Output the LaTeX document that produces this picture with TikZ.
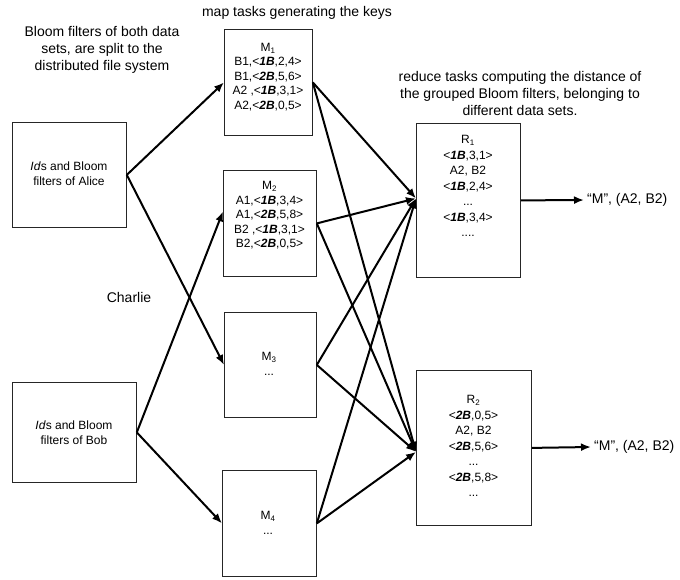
\documentclass[tikz,border=0pt]{standalone}
\usepackage{fontspec}
\setmainfont{Liberation Sans}
\usetikzlibrary{arrows.meta}
\newcommand{\bi}[1]{\textbf{\textit{#1}}}
\begin{document}
\begin{tikzpicture}[x=1pt,y=-1pt,
  box/.style={draw=black!85,line width=0.8pt,inner sep=0pt,anchor=north west},
  note/.style={align=center,font=\fontsize{14}{17}\selectfont,inner sep=0pt},
  mtext/.style={align=center,font=\fontsize{12}{14.5}\selectfont,inner sep=0pt,anchor=north},
  rtext/.style={align=center,font=\fontsize{12}{15.5}\selectfont,inner sep=0pt,anchor=north},
  arr/.style={line width=2pt,-{Latex[length=10pt,width=8pt]}}]
\useasboundingbox (0,0) rectangle (680,579);

% boxes
\node[box,minimum width=114pt,minimum height=105pt] (al) at (12,122) {};
\node[box,minimum width=124pt,minimum height=100pt] (bo) at (12,382) {};
\node[box,minimum width=88pt,minimum height=106pt] (m1) at (224,29) {};
\node[box,minimum width=93pt,minimum height=106pt] (m2) at (223,170) {};
\node[box,minimum width=92pt,minimum height=105pt] (m3) at (224,312) {};
\node[box,minimum width=94pt,minimum height=106pt] (m4) at (222,470) {};
\node[box,minimum width=104pt,minimum height=154pt] (r1) at (416,123) {};
\node[box,minimum width=115pt,minimum height=155pt] (r2) at (416,370) {};

% box texts
\node[align=center,font=\fontsize{12}{15}\selectfont,inner sep=0pt] (alt) at (69,174) {\textit{Id}s and Bloom\\filters of Alice};
\node[align=center,font=\fontsize{12}{15}\selectfont,inner sep=0pt] (bot) at (74,433) {\textit{Id}s and Bloom\\filters of Bob};
\node[mtext] (m1t) at (268,43) {M\textsubscript{1}\\B1,<\bi{1B},2,4>\\B1,<\bi{2B},5,6>\\A2 ,<\bi{1B},3,1>\\A2,<\bi{2B},0,5>};
\node[mtext] (m2t) at (269.5,181.5) {M\textsubscript{2}\\A1,<\bi{1B},3,4>\\A1,<\bi{2B},5,8>\\B2 ,<\bi{1B},3,1>\\B2,<\bi{2B},0,5>};
\node[mtext] (m3t) at (269,352.5) {M\textsubscript{3}\\...};
\node[mtext] (m4t) at (268,511.5) {M\textsubscript{4}\\...};
\node[rtext] (r1t) at (468,135.5) {R\textsubscript{1}\\<\bi{1B},3,1>\\A2, B2\\<\bi{1B},2,4>\\...\\<\bi{1B},3,4>\\....};
\node[rtext] (r2t) at (473.5,395.5) {R\textsubscript{2}\\<\bi{2B},0,5>\\A2, B2\\<\bi{2B},5,6>\\...\\<\bi{2B},5,8>\\...};

% annotations
\node[note] (n1) at (102,50) {Bloom filters of both data\\sets, are split to the\\distributed file system};
\node[note] (n2) at (297,13) {map tasks generating the keys};
\node[note] (n3) at (520,93) {reduce tasks computing the distance of\\the grouped Bloom filters, belonging to\\different data sets.};
\node[note] (n4) at (129,297) {Charlie};
\node[note,anchor=west] (o1) at (587,200) {“M”, (A2, B2)};
\node[note,anchor=west] (o2) at (594,447) {“M”, (A2, B2)};

% connectors
\draw[arr] (al.east) -- (m1.west);
\draw[arr] (al.east) -- (m3.west);
\draw[arr] (bo.east) -- ([yshift=12pt]m2.west);
\draw[arr] (bo.east) -- (m4.west);
\draw[arr] (m1.east) -- ([yshift=2pt]r1.west);
\draw[arr] (m1.east) -- ([yshift=-4pt]r2.west);
\draw[arr] (m2.east) -- ([yshift=2pt]r1.west);
\draw[arr] (m2.east) -- ([yshift=-4pt]r2.west);
\draw[arr] (m3.east) -- ([yshift=2pt]r1.west);
\draw[arr] (m3.east) -- ([yshift=-4pt]r2.west);
\draw[arr] (m4.east) -- ([yshift=2pt]r1.west);
\draw[arr] (m4.east) -- ([yshift=-4pt]r2.west);
\draw[arr] (r1.east) -- ([xshift=-3pt]o1.west);
\draw[arr] (r2.east) -- ([xshift=-3pt]o2.west);
\end{tikzpicture}
\end{document}
